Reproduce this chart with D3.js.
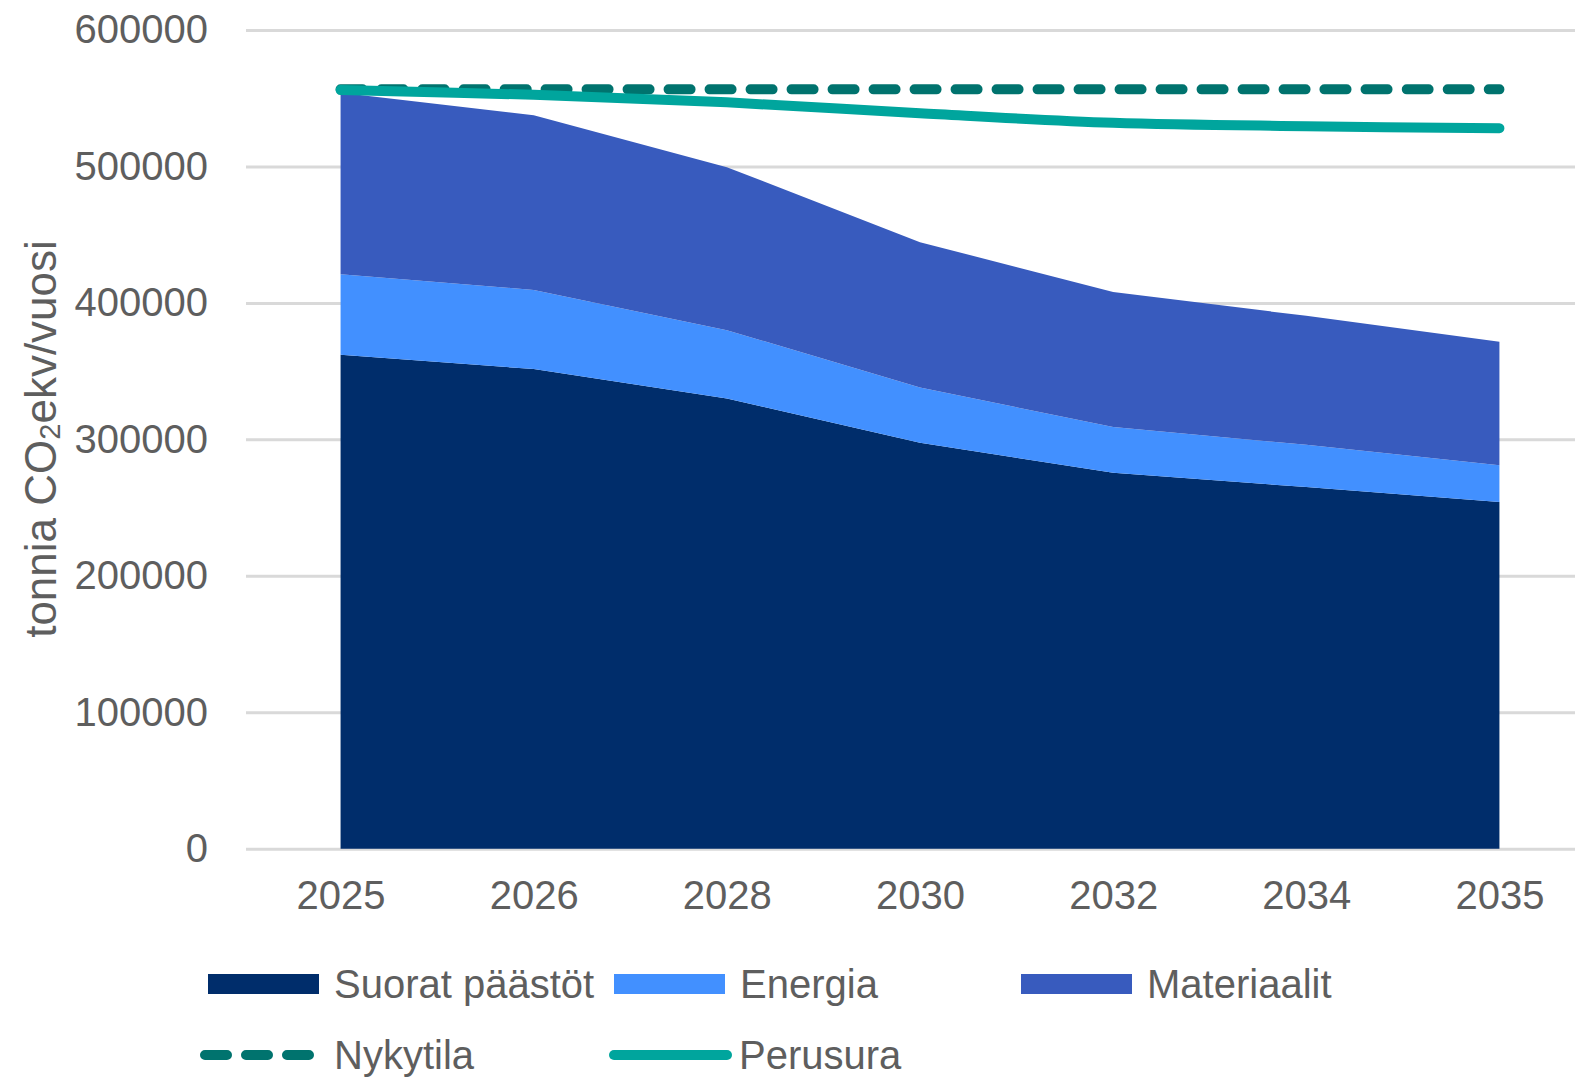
<!DOCTYPE html>
<html>
<head>
<meta charset="utf-8">
<script src="https://cdn.jsdelivr.net/npm/d3@7"></script>
<style>
    body { margin: 0; background: #fff; }
    svg { display: block; font-family: "Liberation Sans", Arial, sans-serif; }
</style>
</head>
<body>
<div id="chart"></div>
<script>
var years = ["2025", "2026", "2028", "2030", "2032", "2034", "2035"];
var suorat = [362000, 351500, 330000, 297500, 275500, 265000, 254000];
var energia = [59000, 58000, 50000, 40500, 33500, 31000, 27000];
var materiaalit = [133000, 128000, 119500, 106500, 99000, 94500, 90500];
var nykytila = [556500, 556500, 556500, 556500, 556500, 556500, 556500];
var perusura = [556000, 552500, 547000, 539000, 532000, 529500, 528000];
var yTicks = [0, 100000, 200000, 300000, 400000, 500000, 600000];

var areaKeys = ["Suorat päästöt", "Energia", "Materiaalit"];
var areaColors = ["#002d6b", "#4290ff", "#385bbe"];
var lineColors = { nykytila: "#00736e", perusura: "#00a59d" };

var width = 1575, height = 1079;
var textColor = "#5e5e5e";

var svg = d3.select("#chart")
    .append("svg")
    .attr("width", width)
    .attr("height", height);

var x = d3.scalePoint()
    .domain(years)
    .range([244, 1596])
    .padding(0.5);

var y = d3.scaleLinear()
    .domain([0, 600000])
    .range([848.7, 30]);

// rows for the stack
var table = years.map(function (yr, i) {
    return {
        year: yr,
        "Suorat päästöt": suorat[i],
        "Energia": energia[i],
        "Materiaalit": materiaalit[i]
    };
});
var series = d3.stack().keys(areaKeys)(table);

// gridlines + y labels
var yAxis = svg.append("g")
    .attr("transform", "translate(246,0)")
    .call(d3.axisLeft(y).tickValues(yTicks).tickSize(-(width - 246)).tickPadding(38).tickFormat(d3.format("d")));
yAxis.select(".domain").remove();
yAxis.selectAll(".tick line")
    .attr("stroke", "#d9d9d9")
    .attr("stroke-width", 3);
yAxis.selectAll(".tick text")
    .attr("fill", textColor)
    .attr("font-size", 40)
    .attr("font-family", "Liberation Sans, Arial, sans-serif");

var area = d3.area()
    .x(function (d) { return x(d.data.year); })
    .y0(function (d) { return y(d[0]); })
    .y1(function (d) { return y(d[1]); });

svg.selectAll(".layer")
    .data(series)
    .enter()
    .append("path")
    .attr("class", "layer")
    .attr("d", area)
    .attr("fill", function (d, i) { return areaColors[i]; });

var line = d3.line()
    .x(function (d, i) { return x(years[i]); })
    .y(function (d) { return y(d); })
    .curve(d3.curveCatmullRom.alpha(0.5));

svg.append("path")
    .attr("d", line(nykytila))
    .attr("fill", "none")
    .attr("stroke", lineColors.nykytila)
    .attr("stroke-width", 10)
    .attr("stroke-linecap", "round")
    .attr("stroke-dasharray", "22,19");

svg.append("path")
    .attr("d", line(perusura))
    .attr("fill", "none")
    .attr("stroke", lineColors.perusura)
    .attr("stroke-width", 10)
    .attr("stroke-linecap", "round");

// x labels
var xAxis = svg.append("g")
    .attr("transform", "translate(0,849)")
    .call(d3.axisBottom(x).tickSize(0).tickPadding(32));
xAxis.select(".domain").remove();
xAxis.selectAll(".tick text")
    .attr("fill", textColor)
    .attr("font-size", 40)
    .attr("font-family", "Liberation Sans, Arial, sans-serif");

// y title
var title = svg.append("text")
    .attr("transform", "translate(40,439) rotate(-90)")
    .attr("text-anchor", "middle")
    .attr("dominant-baseline", "central")
    .attr("fill", textColor)
    .attr("font-size", 44);
title.append("tspan").text("tonnia CO");
title.append("tspan").attr("font-size", 29).attr("dy", 10).text("2");
title.append("tspan").attr("dy", -10).text("ekv/vuosi");

// legend
var legendAreas = [
    { label: "Suorat päästöt", color: areaColors[0], x: 208 },
    { label: "Energia", color: areaColors[1], x: 614 },
    { label: "Materiaalit", color: areaColors[2], x: 1021 }
];
var leg1 = svg.selectAll(".leg1")
    .data(legendAreas)
    .enter()
    .append("g")
    .attr("class", "leg1")
    .attr("transform", function (d) { return "translate(" + d.x + ",984)"; });
leg1.append("rect")
    .attr("x", 0)
    .attr("y", -10)
    .attr("width", 111)
    .attr("height", 20)
    .attr("fill", function (d) { return d.color; });
leg1.append("text")
    .attr("x", 126)
    .attr("dominant-baseline", "central")
    .attr("fill", textColor)
    .attr("font-size", 40)
    .text(function (d) { return d.label; });

var legendLines = [
    { label: "Nykytila", color: lineColors.nykytila, x: 205, w: 104, tx: 129, dash: "22,19" },
    { label: "Perusura", color: lineColors.perusura, x: 614, w: 113, tx: 125, dash: null }
];
var leg2 = svg.selectAll(".leg2")
    .data(legendLines)
    .enter()
    .append("g")
    .attr("class", "leg2")
    .attr("transform", function (d) { return "translate(" + d.x + ",1055)"; });
leg2.append("line")
    .attr("x1", 0)
    .attr("x2", function (d) { return d.w; })
    .attr("stroke", function (d) { return d.color; })
    .attr("stroke-width", 10)
    .attr("stroke-linecap", "round")
    .attr("stroke-dasharray", function (d) { return d.dash; });
leg2.append("text")
    .attr("x", function (d) { return d.tx; })
    .attr("dominant-baseline", "central")
    .attr("fill", textColor)
    .attr("font-size", 40)
    .text(function (d) { return d.label; });
</script>
</body>
</html>
